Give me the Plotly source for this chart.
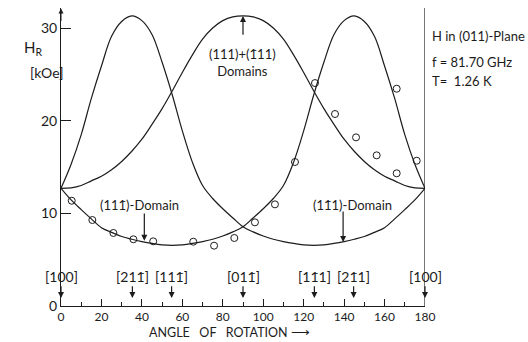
import plotly.graph_objects as go

# ---- data ----
angles = [0, 5, 10, 15, 20, 25, 30, 35, 40, 45, 50, 55, 60, 65, 70, 75, 80, 85, 90,
          95, 100, 105, 110, 115, 120, 125, 130, 135, 140, 145, 150, 155, 160, 165, 170, 175, 180]

# curve peaking near [2 1 -1] (35 deg), minimum near 125 deg  -> (1 -1 1)-domain
h_dom_a = [12.7, 15.3, 18.5, 22.4, 25.9, 29.1, 30.7, 31.3, 30.8, 29.3, 26.3, 22.8, 18.9, 15.5, 13.0, 11.6, 10.5, 9.5, 8.55,
           8.0, 7.55, 7.2, 6.95, 6.75, 6.6, 6.55, 6.6, 6.75, 6.95, 7.2, 7.5, 7.95, 8.45, 9.4, 10.4, 11.45, 12.7]

# (111)+(-111) domains, peak at [0 1 -1]
h_dom_b = [12.7, 12.75, 13.0, 13.5, 14.0, 14.7, 15.6, 16.7, 18.0, 19.6, 21.3, 23.2, 25.2, 27.1, 28.8, 30.0, 30.8, 31.2, 31.3,
           31.2, 30.8, 30.0, 28.8, 27.1, 25.2, 23.2, 21.3, 19.6, 18.0, 16.7, 15.6, 14.7, 14.0, 13.5, 13.0, 12.75, 12.7]

# (1 1 -1)-domain, minimum near 55 deg, peak near 145 deg
h_dom_c = [12.7, 11.45, 10.4, 9.4, 8.45, 7.95, 7.5, 7.2, 6.95, 6.75, 6.6, 6.55, 6.6, 6.75, 6.95, 7.2, 7.55, 8.0, 8.55,
           9.5, 10.5, 11.6, 13.0, 15.5, 18.9, 22.8, 26.3, 29.3, 30.8, 31.3, 30.7, 29.1, 25.9, 22.4, 18.5, 15.3, 12.7]

obs_angle = [5.3, 15.5, 25.9, 35.8, 45.6, 65.4, 75.7, 85.7, 95.9, 105.8, 115.7, 125.6, 135.5, 145.9, 156.1, 166.0, 166.0, 175.9]
obs_h = [11.36, 9.28, 7.88, 7.20, 6.98, 6.94, 6.51, 7.34, 9.03, 10.97, 15.54, 24.06, 20.72, 18.20, 16.26, 14.32, 23.45, 15.68]

dir_angles = [0, 35.3, 54.7, 90, 125.3, 144.7, 180]
dir_labels = ["[100]", "[211\u0304]", "[111\u0304]", "[011\u0304]", "[11\u03041]", "[21\u03041]", "[100]"]

x_ticks = [0, 20, 40, 60, 80, 100, 120, 140, 160, 180]
y_ticks = [0, 10, 20, 30]

INK = "#1c1c1c"
FONT = "Lato"

fig = go.Figure()
for h in (h_dom_a, h_dom_b, h_dom_c):
    fig.add_trace(go.Scatter(x=angles, y=h, mode="lines", line=dict(color=INK, width=1.2, shape="spline"),
                             hoverinfo="skip", cliponaxis=False))
fig.add_trace(go.Scatter(x=obs_angle, y=obs_h, mode="markers",
                         marker=dict(symbol="circle-open", size=7, color=INK, line=dict(width=1, color=INK)),
                         cliponaxis=False))

ann = []
# crystal direction labels with down arrows
for a, lab in zip(dir_angles, dir_labels):
    ann.append(dict(x=a, y=0.86, ax=a, ay=3.2, axref="x", ayref="y", text=lab, showarrow=True,
                    arrowhead=2, arrowsize=1, arrowwidth=1.2, arrowcolor=INK,
                    font=dict(family=FONT, size=14, color=INK)))

# domain labels
ann.append(dict(x=38.6, y=10.9, text="(111\u0304)-Domain", showarrow=False, font=dict(family=FONT, size=13, color=INK)))
ann.append(dict(x=41.2, y=7.05, ax=41.2, ay=10.14, axref="x", ayref="y", text="", showarrow=True,
                arrowhead=2, arrowsize=1, arrowwidth=1.2, arrowcolor=INK))
ann.append(dict(x=143.9, y=10.9, text="(11\u03041)-Domain", showarrow=False, font=dict(family=FONT, size=13, color=INK)))
ann.append(dict(x=139.5, y=6.9, ax=139.5, ay=10.36, axref="x", ayref="y", text="", showarrow=True,
                arrowhead=2, arrowsize=1, arrowwidth=1.2, arrowcolor=INK))
ann.append(dict(x=89.7, y=26.3, text="(111)+(1\u030411)<br>Domains", showarrow=False,
                font=dict(family=FONT, size=13, color=INK)))
ann.append(dict(x=90, y=31.3, ax=90, ay=29.1, axref="x", ayref="y", text="", showarrow=True,
                arrowhead=2, arrowsize=1, arrowwidth=1.2, arrowcolor=INK))

# y axis arrow
ann.append(dict(x=0, y=32.1, ax=0, ay=30.6, axref="x", ayref="y", text="", showarrow=True,
                arrowhead=2, arrowsize=1, arrowwidth=1, arrowcolor=INK))

# axis titles
ann.append(dict(xref="paper", yref="paper", x=-0.108, y=0.905, text="H<sub>R</sub>", showarrow=False,
                font=dict(family=FONT, size=15, color=INK)))
ann.append(dict(xref="paper", yref="paper", x=-0.09, y=0.82, text="[kOe]", showarrow=False,
                font=dict(family=FONT, size=14, color=INK)))
ann.append(dict(x=43.0, xref="x", yref="paper", y=-0.1158, xanchor="left", yanchor="bottom",
                text="ANGLE\u00a0\u00a0\u00a0OF\u00a0\u00a0\u00a0ROTATION\u00a0\u27f6", showarrow=False,
                borderpad=0, font=dict(family=FONT, size=12.5, color=INK)))

# experimental conditions
for yy, t in ((0.905, "H in (011)-Plane"), (0.82, "f = 81.70 GHz"), (0.755, "T=\u00a0\u00a01.26 K")):
    ann.append(dict(xref="paper", yref="paper", x=1.013, y=yy, xanchor="left", yanchor="middle", text=t,
                    showarrow=False, font=dict(family=FONT, size=13, color=INK)))

fig.update_layout(
    width=528, height=342,
    margin=dict(l=61, r=103, t=8, b=36),
    paper_bgcolor="white", plot_bgcolor="white", showlegend=False,
    font=dict(family=FONT, size=12, color=INK),
    annotations=ann,
    shapes=[dict(type="line", xref="x", yref="paper", x0=180, x1=180, y0=0, y1=1,
                 line=dict(color=INK, width=1.2))],
    xaxis=dict(range=[0, 180], tickvals=x_ticks, ticktext=[str(v) for v in x_ticks],
               ticks="inside", ticklen=7, tickwidth=1, tickcolor=INK, ticklabelstandoff=0,
               minor=dict(ticks="inside", ticklen=4, dtick=10, tick0=0, tickcolor=INK, showgrid=False),
               showline=True, linecolor=INK, linewidth=1, showgrid=False, zeroline=False,
               tickfont=dict(family=FONT, size=12, color=INK)),
    yaxis=dict(range=[0, 32.16], tickvals=y_ticks, ticktext=[str(v) for v in y_ticks],
               ticks="inside", ticklen=10, tickwidth=1, tickcolor=INK,
               showline=True, linecolor=INK, linewidth=1, showgrid=False, zeroline=False,
               tickfont=dict(family=FONT, size=14, color=INK)),
)

fig.write_html("out.html")
